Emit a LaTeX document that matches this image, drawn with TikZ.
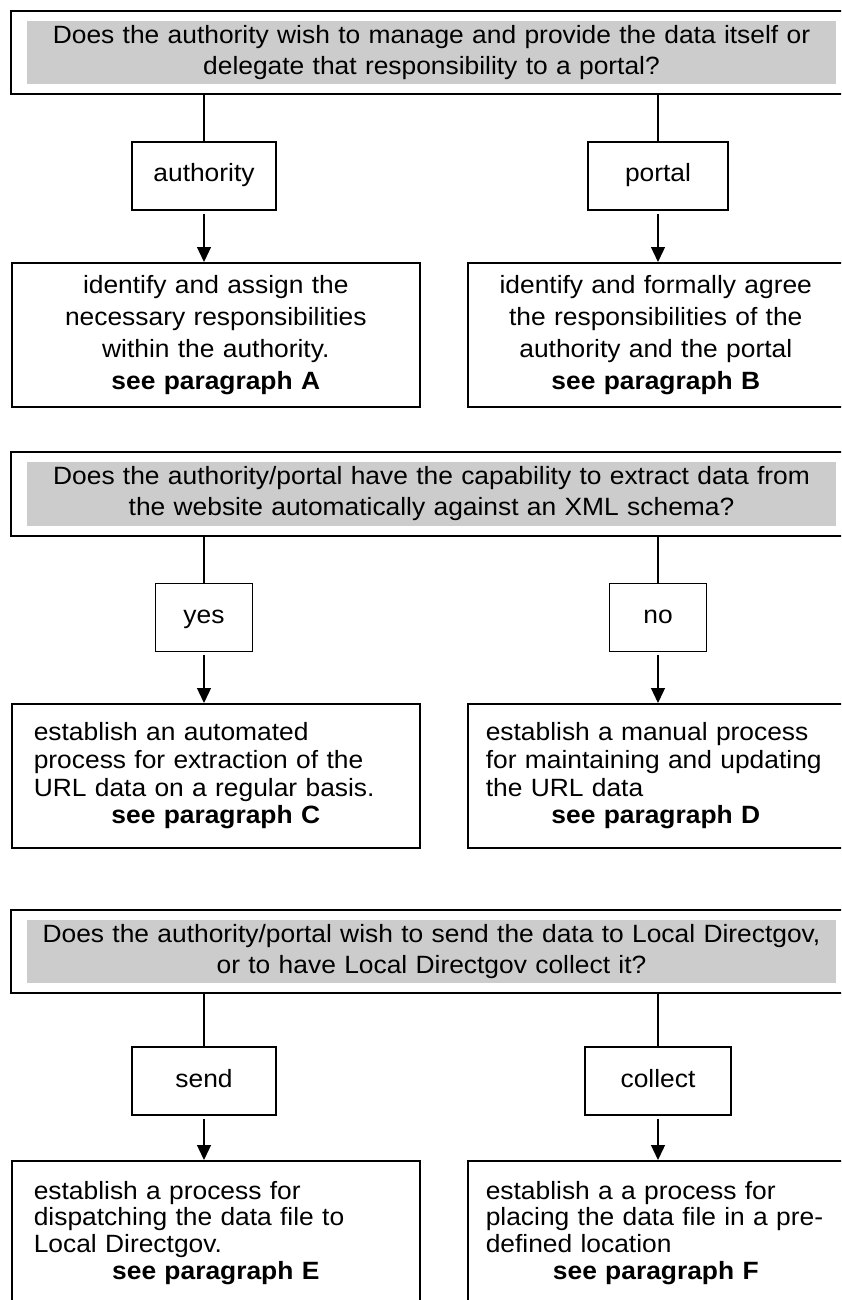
\documentclass[tikz,border=0pt]{standalone}
\usepackage{fontspec}
\setmainfont{Liberation Sans}[FakeStretch=1.055]
\usepackage{xcolor}
\usepackage{tikz}
\usetikzlibrary{arrows.meta, positioning}

\definecolor{qgray}{RGB}{204,204,204}

\begin{document}
\begin{tikzpicture}[
    x=1pt, y=-1pt,
    question/.style={draw, line width=1.6pt, minimum width=841pt, minimum height=#1, text width=800pt, align=center,
        font=\fontsize{25}{31}\selectfont,
        path picture={\fill[qgray] ([shift={(16pt,-10pt)}]path picture bounding box.north west) rectangle ([shift={(-16pt,10pt)}]path picture bounding box.south east);}},
    choice/.style={draw, line width=1.6pt, minimum width=#1, minimum height=68pt, text height=17pt, text depth=5pt,
        font=\fontsize{25}{28}\selectfont},
    result/.style={draw, line width=1.6pt, anchor=north west, minimum height=144pt, font=\fontsize{25}{#1}\selectfont},
    resleft/.style={result=#1, minimum width=408pt, text width=364pt, inner xsep=22pt},
    resright/.style={result=#1, minimum width=376pt, text width=340pt, inner xsep=18pt},
    link/.style={line width=1.3pt},
    arr/.style={-{Triangle[length=15pt, width=14pt]}, line width=1.3pt, shorten <=3pt}
]
\useasboundingbox (0,0) rectangle (841,1300);
\clip (0,0) rectangle (841,1300);

% Question 1
\node[question=83pt] (q1) at (431.5,52.5) {Does the authority wish to manage and provide the data itself or\\delegate that responsibility to a portal?};

\node[choice=144pt] (auth) at (204,176) {authority};
\draw[link] (q1.south -| auth) -- (auth);
\node[choice=140pt] (portal) at (658,176) {portal};
\draw[link] (q1.south -| portal) -- (portal);

\node[resleft=32pt, align=center] (resA) at (11,262) {identify and assign the\\necessary responsibilities\\within the authority.\\\textbf{see paragraph A}};
\draw[arr] (auth) -- (resA.north -| auth);
\node[resright=32pt, align=center] (resB) at (467,262) {identify and formally agree\\the responsibilities of the\\authority and the portal\\\textbf{see paragraph B}};
\draw[arr] (portal) -- (resB.north -| portal);

% Question 2
\node[question=84pt] (q2) at (431.5,494) {Does the authority/portal have the capability to extract data from\\the website automatically against an XML schema?};

\node[choice=97pt] (yes) at (204,617.5) {yes};
\draw[link] (q2.south -| yes) -- (yes);
\node[choice=97pt] (no) at (658,617.5) {no};
\draw[link] (q2.south -| no) -- (no);

\node[resleft=27.7pt, align=left] (resC) at (11,703) {establish an automated\\process for extraction of the\\URL data on a regular basis.\\\makebox[\linewidth]{\textbf{see paragraph C}}};
\draw[arr] (yes) -- (resC.north -| yes);
\node[resright=27.7pt, align=left] (resD) at (467,703) {establish a manual process\\for maintaining and updating\\the URL data\\\makebox[\linewidth]{\textbf{see paragraph D}}};
\draw[arr] (no) -- (resD.north -| no);

% Question 3
\node[question=83pt] (q3) at (431.5,951.5) {Does the authority/portal wish to send the data to Local Directgov,\\or to have Local Directgov collect it?};

\node[choice=144pt] (send) at (204,1081) {send};
\draw[link] (q3.south -| send) -- (send);
\node[choice=146pt] (collect) at (658,1081) {collect};
\draw[link] (q3.south -| collect) -- (collect);

\node[resleft=26.7pt, align=left] (resE) at (11,1160) {establish a process for\\dispatching the data file to\\Local Directgov.\\\makebox[\linewidth]{\textbf{see paragraph E}}};
\draw[arr] (send) -- (resE.north -| send);
\node[resright=26.7pt, align=left] (resF) at (467,1160) {establish a a process for\\placing the data file in a pre-\\defined location\\\makebox[\linewidth]{\textbf{see paragraph F}}};
\draw[arr] (collect) -- (resF.north -| collect);

\end{tikzpicture}
\end{document}
